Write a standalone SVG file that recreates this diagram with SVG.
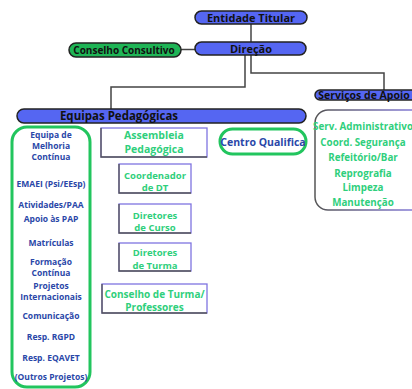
<svg xmlns="http://www.w3.org/2000/svg" width="412" height="389" viewBox="0 0 412 389">
<defs>
<linearGradient id="sg" x1="0" y1="0" x2="1" y2="0">
<stop offset="0" stop-color="#555"/><stop offset="1" stop-color="#8a7fe6"/>
</linearGradient>
</defs>
<style>
text{font-family:"Open Sans","DejaVu Sans",sans-serif;font-weight:bold;text-anchor:middle}
.pill{fill:#5566f2;stroke:#222;stroke-width:1.5}
.pt{fill:#111}
.con{fill:none;stroke:#444;stroke-width:1.5}
.box{fill:#fff;stroke:#7f74e0;stroke-width:1.3}
.sh{fill:none;stroke:#555;stroke-width:1.3}
.gt{fill:#2fcf7c}
.bt{fill:#2a47a8;font-size:8.5px}
</style>
<rect width="412" height="389" fill="#fff"/>
<g id="connectors">
<path class="con" d="M251 24V42"/>
<path class="con" d="M181 49.5H196"/>
<path class="con" d="M245 55V87H111V109"/>
<path class="con" d="M251 55V73H384V90"/>
</g>
<g id="entidade">
<rect class="pill" x="195" y="11" width="112" height="13" rx="6.5"/>
<text class="pt" x="251" y="21.5" font-size="11">Entidade Titular</text>
</g>
<g id="direcao">
<rect class="pill" x="195" y="42" width="111" height="13" rx="6.5"/>
<text class="pt" x="251" y="52.5" font-size="11">Direção</text>
</g>
<g id="conselho-consultivo">
<rect x="69" y="43" width="112" height="14" rx="7" fill="#1fb556" stroke="#222" stroke-width="1.5"/>
<text class="pt" x="124" y="53.5" font-size="10">Conselho Consultivo</text>
</g>
<g id="equipas">
<rect class="pill" x="17" y="109" width="289" height="14" rx="7"/>
<text class="pt" x="119" y="120" font-size="11.5">Equipas Pedagógicas</text>
</g>
<g id="servicos">
<rect class="pill" x="315" y="90" width="110" height="10" rx="5"/>
<text class="pt" x="364" y="99" font-size="10.5">Serviços de Apoio</text>
</g>
<g id="servicos-lista">
<rect x="315" y="110" width="110" height="100" rx="13" fill="#fff" stroke="url(#sg)" stroke-width="1.5"/>
<g class="gt" font-size="9.8">
<text x="363" y="129.5">Serv. Administrativo</text>
<text x="363" y="145.5">Coord. Segurança</text>
<text x="363" y="160.5">Refeitório/Bar</text>
<text x="363" y="176.5">Reprografia</text>
<text x="363" y="190.5">Limpeza</text>
<text x="363" y="205.5">Manutenção</text>
</g>
</g>
<g id="equipas-lista">
<rect x="12" y="127" width="78" height="260" rx="15" fill="#fff" stroke="#22c55e" stroke-width="3"/>
<text class="bt" x="51" y="138">Equipa de</text>
<text class="bt" x="51" y="149">Melhoria</text>
<text class="bt" x="51" y="160">Contínua</text>
<text class="bt" x="51" y="187">EMAEI (Psi/EEsp)</text>
<text class="bt" x="51" y="208">Atividades/PAA</text>
<text class="bt" x="51" y="222">Apoio às PAP</text>
<text class="bt" x="51" y="246">Matrículas</text>
<text class="bt" x="51" y="265">Formação</text>
<text class="bt" x="51" y="276">Contínua</text>
<text class="bt" x="51" y="289">Projetos</text>
<text class="bt" x="51" y="300">Internacionais</text>
<text class="bt" x="51" y="319">Comunicação</text>
<text class="bt" x="51" y="340">Resp. RGPD</text>
<text class="bt" x="51" y="361">Resp. EQAVET</text>
<text class="bt" x="51" y="380">(Outros Projetos)</text>
</g>
<g id="assembleia">
<rect class="box" x="101" y="128" width="106" height="29"/>
<path class="sh" d="M101 128V157H207"/>
<text class="gt" x="154" y="138.5" font-size="10.5">Assembleia</text>
<text class="gt" x="154" y="153" font-size="10.5">Pedagógica</text>
</g>
<g id="centro-qualifica">
<rect x="220" y="129" width="86" height="25" rx="12.5" fill="#fff" stroke="#22c55e" stroke-width="3"/>
<text x="263" y="145.5" font-size="10.5" fill="#2a47a8">Centro Qualifica</text>
</g>
<g id="coordenador-dt">
<rect class="box" x="119" y="164" width="72" height="29"/>
<path class="sh" d="M119 164V193H191"/>
<text class="gt" x="155" y="178.5" font-size="9.5">Coordenador</text>
<text class="gt" x="155" y="190.5" font-size="9.5">de DT</text>
</g>
<g id="diretores-curso">
<rect class="box" x="119" y="204" width="72" height="29"/>
<path class="sh" d="M119 204V233H191"/>
<text class="gt" x="155" y="218.5" font-size="9.5">Diretores</text>
<text class="gt" x="155" y="230.5" font-size="9.5">de Curso</text>
</g>
<g id="diretores-turma">
<rect class="box" x="119" y="243" width="72" height="28"/>
<path class="sh" d="M119 243V271H191"/>
<text class="gt" x="155" y="255.5" font-size="9.5">Diretores</text>
<text class="gt" x="155" y="269" font-size="9.5">de Turma</text>
</g>
<g id="conselho-turma">
<rect class="box" x="102" y="284" width="105" height="29"/>
<path class="sh" d="M102 284V313H207"/>
<text class="gt" x="154.5" y="297.5" font-size="10">Conselho de Turma/</text>
<text class="gt" x="154.5" y="310.5" font-size="10">Professores</text>
</g>
</svg>
